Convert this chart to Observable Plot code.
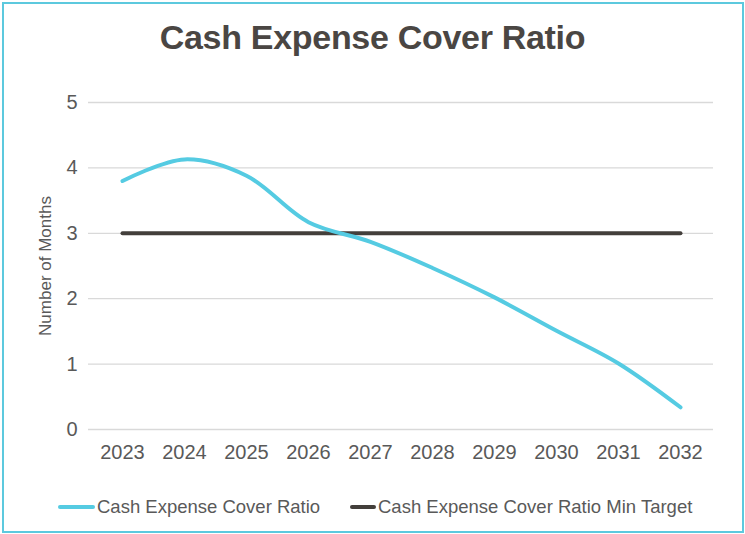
<!DOCTYPE html>
<html>
<head>
<meta charset="utf-8">
<script src="https://cdn.jsdelivr.net/npm/d3@7"></script>
<script src="https://cdn.jsdelivr.net/npm/@observablehq/plot@0.6"></script>
<style>
  html, body { margin: 0; padding: 0; background: #fff; }
  #wrap { position: relative; width: 745px; height: 534px; overflow: hidden; font-family: "Liberation Sans", Arial, sans-serif; }
  #frame { position: absolute; left: 2px; top: 2px; width: 738px; height: 527px; border: 2px solid #5cc9de; box-sizing: content-box; pointer-events: none; }
  #title { position: absolute; left: 0; width: 745px; top: 18px; text-align: center; font-weight: bold; font-size: 34px; color: #4a4643; letter-spacing: -0.3px; }
  #chart { position: absolute; left: 0; top: 0; }
  #legend { position: absolute; top: 496px; left: 0; width: 745px; height: 24px; font-size: 18.5px; color: #595959; }
  .item { position: absolute; top: 0; display: flex; align-items: center; height: 22px; white-space: nowrap; }
  .swatch { display: inline-block; height: 4px; border-radius: 2px; margin-right: 2px; }
</style>
</head>
<body>
<div id="wrap">
  <div id="title"></div>
  <div id="chart"></div>
  <div id="legend"></div>
  <div id="frame"></div>
</div>
<script>
const titleText = "Cash Expense Cover Ratio";
const yLabel = "Number of Months";
const years = ["2023","2024","2025","2026","2027","2028","2029","2030","2031","2032"];
const ratio = [3.80, 4.13, 3.88, 3.17, 2.87, 2.47, 2.02, 1.51, 1.01, 0.34];
const minTarget = [3, 3, 3, 3, 3, 3, 3, 3, 3, 3];
const yTicks = [0, 1, 2, 3, 4, 5];
const seriesNames = ["Cash Expense Cover Ratio", "Cash Expense Cover Ratio Min Target"];
const seriesColors = ["#55cbe2", "#433f3b"];

const ratioData = years.map((y, i) => ({year: y, value: ratio[i]}));
const targetData = years.map((y, i) => ({year: y, value: minTarget[i]}));

document.getElementById("title").textContent = titleText;

const chart = Plot.plot({
  width: 745,
  height: 470,
  marginTop: 102,
  marginBottom: 41,
  marginLeft: 88,
  marginRight: 32,
  style: {fontFamily: "Liberation Sans, Arial, sans-serif", fontSize: "20px", color: "#595959", background: "transparent"},
  x: {type: "point", domain: years, padding: 0.5},
  y: {domain: [0, 5]},
  marks: [
    Plot.gridY(yTicks, {stroke: "#d9d9d9", strokeOpacity: 1, strokeWidth: 1.3}),
    Plot.axisX({tickSize: 0, tickPadding: 15, label: null, fontSize: 20}),
    Plot.axisY(yTicks, {tickSize: 0, tickPadding: 11, label: null, fontSize: 20, tickFormat: d => String(d)}),
    Plot.text([yLabel], {frameAnchor: "left", dx: -43, rotate: -90, textAnchor: "middle", fontSize: 17, fill: "#595959"}),
    Plot.line(targetData, {x: "year", y: "value", stroke: seriesColors[1], strokeWidth: 4, strokeLinecap: "round"}),
    Plot.line(ratioData, {x: "year", y: "value", stroke: seriesColors[0], strokeWidth: 4, curve: "catmull-rom", strokeLinecap: "round"})
  ]
});
document.getElementById("chart").appendChild(chart);

const legend = document.getElementById("legend");
const positions = [{left: 58, w: 37}, {left: 350, w: 26}];
seriesNames.forEach((name, i) => {
  const item = document.createElement("div");
  item.className = "item";
  item.style.left = positions[i].left + "px";
  const sw = document.createElement("span");
  sw.className = "swatch";
  sw.style.width = positions[i].w + "px";
  sw.style.background = seriesColors[i];
  const t = document.createElement("span");
  t.textContent = name;
  item.appendChild(sw);
  item.appendChild(t);
  legend.appendChild(item);
});
</script>
</body>
</html>
